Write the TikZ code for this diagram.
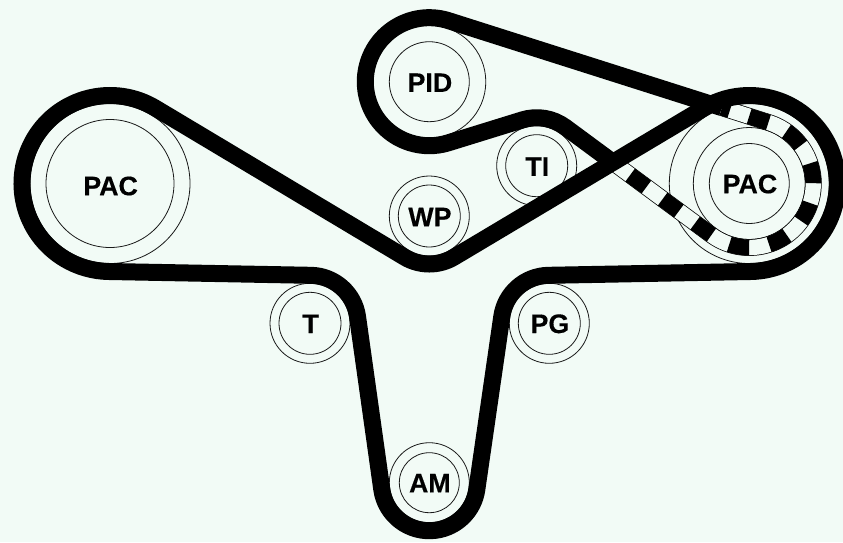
\documentclass[tikz,border=0pt]{standalone}
\usepackage{fontspec}
\setmainfont{Liberation Sans}
\newfontfamily\lblfont[UprightFont={* Bold},FakeBold=0.35]{Liberation Sans}
\usetikzlibrary{calc}
\definecolor{bgmint}{HTML}{F2FBF6}
\newcommand\lowertext[2]{\hspace*{1.2pt}\raisebox{-#1pt}[\height][\depth]{#2}}
\newcommand\TanAngle[7]{%
  \pgfmathsetmacro\dphi{atan2((#6)-(#3),(#5)-(#2))}%
  \pgfmathsetmacro\ddist{veclen((#5)-(#2),(#6)-(#3))}%
  \pgfmathsetmacro\tht{\dphi+asin(((#7)-(#4))/\ddist)}%
  \expandafter\let\csname tg#1\endcsname\tht}
\newcommand\BeltArc[6]{%
  \pgfmathsetmacro\aS{(#4)>0 ? (#5)+90 : (#5)-90}%
  \pgfmathsetmacro\aE{(#4)>0 ? \aS-Mod(\aS-((#6)+90),360) : \aS+Mod((#6)-90-\aS,360)}%
  \pgfmathsetmacro\rR{abs(#4)}%
  \coordinate (#1s) at ($(#2pt,#3pt)+(\aS:\rR pt)$);%
  \coordinate (#1e) at ($(#2pt,#3pt)+(\aE:\rR pt)$);%
  \expandafter\edef\csname bp#1\endcsname{(#1s) arc[start angle=\aS,end angle=\aE,radius=\rR pt]}}
\tikzset{
  ring/.style={draw=black!90,line width=0.8pt,circle,inner sep=0pt,outer sep=0pt,fill=none},
  lab/.style={ring,font=\fontsize{26.8}{26.8}\selectfont\lblfont},
  belt/.style={draw=black,line width=17pt,line join=round},
  toothrim/.style={draw=black,line width=16.8pt},
  toothgap/.style={draw=bgmint,line width=15.3pt},
  toothdash/.style={draw=black,line width=16pt,dash pattern=on 20.2pt off 20.2pt,dash phase=19.6pt}
}
\begin{document}
\begin{tikzpicture}
\path[use as bounding box,fill=bgmint] (0pt,-542pt) rectangle (843pt,0pt);
% tangents, belt A
\TanAngle{a}{110}{-183.5}{-88}{310}{-323.3}{48}
\TanAngle{b}{310}{-323.3}{48}{429.3}{-482.7}{-48}
\TanAngle{c}{429.3}{-482.7}{-48}{549.3}{-323.3}{48}
\TanAngle{d}{549.3}{-323.3}{48}{749.3}{-183.5}{-88}
\TanAngle{e}{749.3}{-183.5}{-88}{429.3}{-216}{48}
\TanAngle{f}{429.3}{-216}{48}{110}{-183.5}{-88}
\BeltArc{PL}{110}{-183.5}{-88}{\tgf}{\tga}
\BeltArc{TT}{310}{-323.3}{48}{\tga}{\tgb}
\BeltArc{AM}{429.3}{-482.7}{-48}{\tgb}{\tgc}
\BeltArc{PG}{549.3}{-323.3}{48}{\tgc}{\tgd}
\BeltArc{PR}{749.3}{-183.5}{-88}{\tgd}{\tge}
\BeltArc{WP}{429.3}{-216}{48}{\tge}{\tgf}
% tangents, belt B
\TanAngle{g}{429.3}{-81.7}{-64}{536.7}{-165.7}{48}
\TanAngle{h}{536.7}{-165.7}{48}{749.3}{-183.5}{-64}
\TanAngle{i}{749.3}{-183.5}{-64}{429.3}{-81.7}{-64}
\BeltArc{PI}{429.3}{-81.7}{-64}{\tgi}{\tgg}
\BeltArc{TI}{536.7}{-165.7}{48}{\tgg}{\tgh}
\BeltArc{BR}{749.3}{-183.5}{-64}{\tgh}{\tgi}
\coordinate (toothstart) at ($(TIe)!0.33!(BRs)$);
\coordinate (toothend) at ($(BRe)!0.146!(PIs)$);
% pulleys
\node[lab,minimum size=128pt] (pacL) at (110pt,-183.5pt) {\lowertext{2.5}{PAC}};
\node[ring,minimum size=160pt] (pacLo) at (110pt,-183.5pt) {};
\node[lab,minimum size=80pt] (pid) at (429.3pt,-81.7pt) {\lowertext{1}{PID}};
\node[ring,minimum size=113pt] (pido) at (429.3pt,-81.7pt) {};
\node[lab,minimum size=62pt] (ti) at (536.7pt,-165.7pt) {\lowertext{1}{TI}};
\node[ring,minimum size=80pt] (tio) at (536.7pt,-165.7pt) {};
\node[lab,minimum size=62pt] (wp) at (429.3pt,-216pt) {\lowertext{1}{WP}};
\node[ring,minimum size=80pt] (wpo) at (429.3pt,-216pt) {};
\node[lab,minimum size=62pt] (t) at (310pt,-323.3pt) {\lowertext{0.5}{T}};
\node[ring,minimum size=80pt] (to) at (310pt,-323.3pt) {};
\node[lab,minimum size=62pt] (pg) at (549.3pt,-323.3pt) {\lowertext{0.5}{PG}};
\node[ring,minimum size=80pt] (pgo) at (549.3pt,-323.3pt) {};
\node[lab,minimum size=60pt] (am) at (429.3pt,-482.7pt) {\lowertext{0.5}{AM}};
\node[ring,minimum size=80pt] (amo) at (429.3pt,-482.7pt) {};
\node[lab,minimum size=80pt] (pacR) at (749.3pt,-183.5pt) {\lowertext{0.5}{PAC}};
\node[ring,minimum size=112pt] (pacRm) at (749.3pt,-183.5pt) {};
\node[ring,minimum size=160pt] (pacRo) at (749.3pt,-183.5pt) {};
% belt B
\draw[belt] (toothend) -- \bpPI -- \bpTI -- (toothstart);
\path[toothrim] (toothstart) -- \bpBR -- (toothend);
\path[toothgap] (toothstart) -- \bpBR -- (toothend);
\path[toothdash] (toothstart) -- \bpBR -- (toothend);
% belt A
\draw[belt] \bpPL -- \bpTT -- \bpAM -- \bpPG -- \bpPR -- \bpWP -- cycle;
\end{tikzpicture}
\end{document}
